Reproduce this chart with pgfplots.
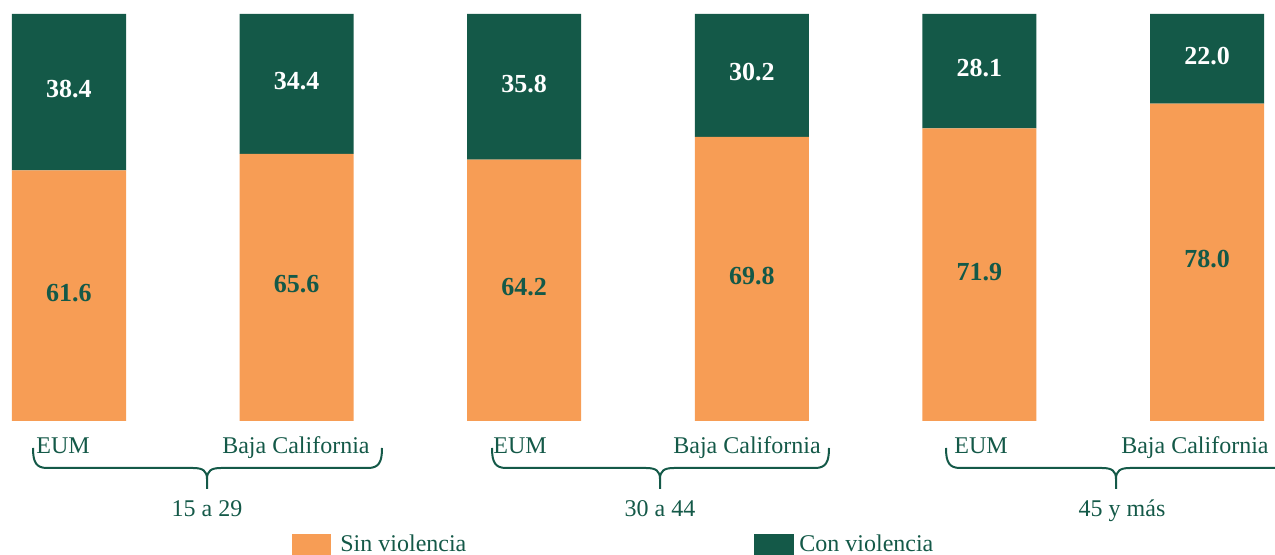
\documentclass[border=0pt]{standalone}
\usepackage{pgfplots}
\pgfplotsset{compat=1.18}
\usepackage{fontspec}
\setmainfont{Liberation Serif}
\definecolor{naranja}{RGB}{247,157,85}
\definecolor{verde}{RGB}{20,89,72}
\newcommand{\llave}[3]{%
  \draw[verde, line width=1pt, line join=round]
    (#1,107) .. controls (#1,93) and (#1+3,87) .. (#1+14,87)
    -- (#2-14,87) .. controls (#2-4,87) and (#2,84) .. (#2,76) -- (#2,66);
  \draw[verde, line width=1pt, line join=round]
    (#3,107) .. controls (#3,93) and (#3-3,87) .. (#3-14,87)
    -- (#2+14,87) .. controls (#2+4,87) and (#2,84) .. (#2,76);
}
\begin{document}
\begin{tikzpicture}
\pgfplotsset{
  common/.style={
    at={(0pt,67pt)}, anchor=south west,
    scale only axis, width=637.5pt, height=203.5pt,
    xmin=-0.30316, xmax=5.29877, ymin=0, ymax=100,
    clip=false,
  }
}
\begin{axis}[common,
  ybar stacked, bar width=57pt,
  axis line style={draw=none},
  ytick=\empty,
  major tick length=0pt,
  xtick={-0.026,0.997,1.982,2.979,4.007,4.947},
  xticklabels={EUM,Baja California,EUM,Baja California,EUM,Baja California},
  xticklabel style={anchor=base, yshift=-16.5pt, font=\fontsize{12}{14}\selectfont, text=verde},
]
\addplot[fill=naranja, draw=none] coordinates {(0,61.6) (1,65.6) (2,64.2) (3,69.8) (4,71.9) (5,78.0)};
\addplot[fill=verde, draw=none] coordinates {(0,38.4) (1,34.4) (2,35.8) (3,30.2) (4,28.1) (5,22.0)};
\end{axis}
\begin{axis}[common, hide axis]
\addplot[draw=none, mark=none, nodes near coords, point meta=explicit symbolic,
  every node near coord/.style={anchor=center, yshift=1.5pt, font=\fontsize{13}{15}\selectfont\bfseries, text=verde}]
  coordinates {(0,30.8)[61.6] (1,32.8)[65.6] (2,32.1)[64.2] (3,34.9)[69.8] (4,35.95)[71.9] (5,39.0)[78.0]};
\addplot[draw=none, mark=none, nodes near coords, point meta=explicit symbolic,
  every node near coord/.style={anchor=center, yshift=1.5pt, font=\fontsize{13}{15}\selectfont\bfseries, text=white}]
  coordinates {(0,80.8)[38.4] (1,82.8)[34.4] (2,82.1)[35.8] (3,84.9)[30.2] (4,85.95)[28.1] (5,89.0)[22.0]};
\end{axis}
\begin{scope}[x=0.5pt, y=0.5pt]
  \llave{33}{207}{382}
  \llave{492}{660}{829}
  \llave{946}{1116}{1286}
  \node[anchor=base, text=verde, font=\fontsize{12}{14}\selectfont, inner sep=0pt] at (207,38) {15 a 29};
  \node[anchor=base, text=verde, font=\fontsize{12}{14}\selectfont, inner sep=0pt] at (660,38) {30 a 44};
  \node[anchor=base, text=verde, font=\fontsize{12}{14}\selectfont, inner sep=0pt] at (1122,38) {45 y más};
  \fill[naranja] (292,0) rectangle (331,21);
  \node[anchor=base west, text=verde, font=\fontsize{12}{14}\selectfont, inner sep=0pt] at (340,3) {Sin violencia};
  \fill[verde] (754,0) rectangle (794,21);
  \node[anchor=base west, text=verde, font=\fontsize{12}{14}\selectfont, inner sep=0pt] at (799,3) {Con violencia};
\end{scope}
\pgfresetboundingbox
\path[x=0.5pt, y=0.5pt] (0,0) rectangle (1275,555);
\end{tikzpicture}
\end{document}
